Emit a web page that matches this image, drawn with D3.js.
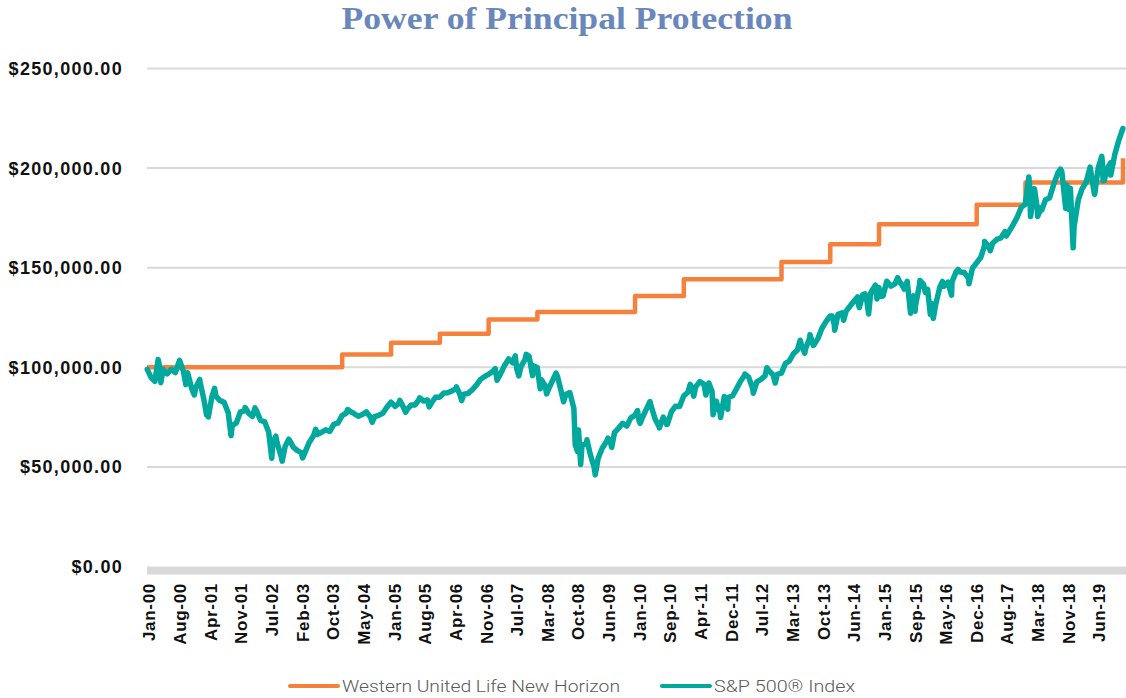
<!DOCTYPE html>
<html lang="en">
<head>
  <meta charset="UTF-8">
  <title>Power of Principal Protection</title>
  <script src="https://d3js.org/d3.v7.min.js"></script>
  <style>
    * { margin: 0; padding: 0; }
    html, body { background: #fff; }
    svg { display: block; }
    .title { font-family: "Liberation Serif", "Times New Roman", serif; font-weight: bold; fill: #6a87bb; }
    .ylab { font-family: "Liberation Sans", Arial, sans-serif; font-weight: bold; font-size: 18px; fill: #111; letter-spacing: 1.3px; }
    .xlab { font-family: "Liberation Sans", Arial, sans-serif; font-weight: bold; font-size: 17px; fill: #111; letter-spacing: 0.7px; }
    .legend text { font-family: Roboto, "Liberation Sans", sans-serif; font-weight: 300; font-size: 16px; fill: #595959; }
  </style>
</head>
<body>
  <svg id="chart" width="1126" height="698"></svg>

  <script>
    // series names
    var seriesNames = ["Western United Life New Horizon", "S&P 500\u00AE Index"];

    // annuity value, steps up on each January reset
    var wulDates = ["2000-01", "2004-01", "2005-01", "2006-01", "2007-01", "2008-01", "2010-01",
                    "2011-01", "2013-01", "2014-01", "2015-01", "2017-01", "2018-01", "2020-01"];
    var wulValues = [100000, 106400, 112300, 116800, 124000, 127800, 135800,
                     144200, 152800, 161800, 171800, 181600, 192800, 205000];

    // S&P 500 month-end values, Jan-00 .. Dec-19 (one row per year)
    var spxMonthly = [
      94900, 93000, 102000, 98900, 96700, 99000, 97400, 103300, 97800, 97300, 89500, 89900,
      93000, 84400, 79000, 85000, 85500, 83300, 82400, 77200, 70800, 72100, 77600, 78100,
      76900, 75300, 78100, 73300, 72600, 67400, 62000, 62300, 55500, 60300, 63700, 59900,
      58200, 57200, 57700, 62400, 65600, 66300, 67400, 68600, 67800, 71500, 72000, 75700,
      77000, 77900, 76700, 75400, 76300, 77600, 75000, 75200, 75900, 76900, 79900, 82500,
      80400, 81900, 80400, 78700, 81100, 81100, 84000, 83100, 83600, 82200, 85000, 85000,
      87100, 87200, 88100, 89200, 86400, 86500, 86900, 88700, 90900, 93800, 95300, 96500,
      97900, 95800, 96700, 100900, 104200, 102300, 99000, 100300, 103900, 105500, 100800, 99900,
      93800, 90600, 90000, 94300, 95300, 87100, 86300, 87300, 79400, 65900, 61000, 61500,
      56200, 50000, 54300, 59400, 62600, 62600, 67200, 69500, 71900, 70500, 74600, 75900,
      73100, 75200, 79600, 80800, 74100, 70200, 75000, 71400, 77700, 80500, 80300, 85600,
      87500, 90300, 90200, 92800, 91600, 89900, 88000, 83000, 77000, 85300, 84900, 85600,
      89300, 93000, 95900, 95100, 89200, 92700, 93900, 95700, 98100, 96100, 96400, 97100,
      102000, 103100, 106800, 108700, 111000, 109300, 114700, 111100, 114400, 119600, 122900, 125800,
      121300, 126600, 127400, 128200, 130900, 133400, 131400, 136400, 134200, 137400, 140700, 140100,
      135800, 143200, 140700, 141900, 143400, 140400, 143200, 134200, 130700, 141500, 141600, 139100,
      132100, 131500, 140200, 140600, 142700, 142900, 147900, 147800, 147600, 144700, 149700, 152400,
      155100, 160900, 160800, 162300, 164200, 164900, 168100, 168200, 171500, 175300, 180200, 182000,
      192200, 184700, 179700, 180200, 184100, 185000, 191700, 197500, 198300, 184600, 187900, 170600,
      184000, 189500, 192900, 200500, 187300, 200200, 202800, 199200, 202600, 206700, 213800, 219900
    ];

    // intra-month highs and lows seen on the line
    var spxSwings = [
      ["2000-01-03", 99000], ["2000-03-24", 103900], ["2000-04-14", 92300], ["2000-09-01", 103500],
      ["2000-10-18", 91300], ["2000-12-20", 86100], ["2001-01-30", 93900], ["2001-03-22", 76100],
      ["2001-04-04", 75100], ["2001-05-21", 89400], ["2001-09-21", 65700], ["2002-01-04", 79800],
      ["2002-03-19", 79600], ["2002-07-23", 54300], ["2002-08-22", 65500], ["2002-10-09", 52900],
      ["2002-11-27", 63900], ["2003-03-11", 54500], ["2003-06-17", 68900], ["2004-02-11", 78800],
      ["2004-08-12", 72400], ["2005-03-07", 83400], ["2005-04-20", 77400], ["2005-08-03", 84700],
      ["2005-10-13", 80100], ["2006-05-05", 90200], ["2006-06-13", 83300], ["2007-02-20", 99300],
      ["2007-03-05", 93500], ["2007-07-19", 105700], ["2007-08-15", 95700], ["2007-10-09", 106500],
      ["2007-11-26", 95800], ["2008-01-22", 89200], ["2008-03-10", 86600], ["2008-05-19", 97100],
      ["2008-07-15", 82700], ["2008-10-10", 61200], ["2008-10-27", 57800], ["2008-11-04", 68500],
      ["2008-11-20", 51200], ["2009-01-06", 63600], ["2009-03-09", 46000], ["2009-06-12", 64400],
      ["2009-07-10", 59800], ["2010-01-19", 78300], ["2010-02-08", 71900], ["2010-04-23", 82800],
      ["2010-07-02", 69600], ["2010-08-26", 71300], ["2011-02-18", 91400], ["2011-03-16", 85500],
      ["2011-06-15", 86100], ["2011-07-07", 92100], ["2011-08-08", 76200], ["2011-10-03", 74800],
      ["2011-11-25", 78900], ["2012-04-02", 96600], ["2012-06-04", 87000], ["2012-09-14", 99800],
      ["2012-11-15", 92100], ["2013-05-21", 113600], ["2013-06-24", 107100], ["2013-08-02", 116400],
      ["2013-08-27", 111000], ["2014-01-15", 125800], ["2014-02-03", 118600], ["2014-04-11", 123600],
      ["2014-07-24", 135300], ["2014-08-07", 130000], ["2014-09-18", 136900], ["2014-10-15", 126800],
      ["2014-12-05", 141200], ["2014-12-16", 134300], ["2015-01-15", 135600], ["2015-05-21", 145000],
      ["2015-07-08", 139300], ["2015-08-25", 127100], ["2015-09-16", 135800], ["2015-09-28", 128100],
      ["2015-11-03", 143600], ["2015-12-14", 137600], ["2016-01-20", 126500], ["2016-02-11", 124500],
      ["2016-04-20", 143100], ["2016-06-27", 136200], ["2016-08-15", 149100], ["2016-11-04", 141900],
      ["2017-03-01", 163100], ["2017-04-13", 158500], ["2017-08-10", 165900], ["2018-01-26", 195500],
      ["2018-02-08", 175700], ["2018-03-09", 189700], ["2018-04-02", 175700], ["2018-05-03", 179000],
      ["2018-09-20", 199500], ["2018-10-29", 179700], ["2018-11-07", 191500], ["2018-11-23", 179200],
      ["2018-12-03", 189900], ["2018-12-24", 160000], ["2019-06-03", 186800], ["2019-07-26", 205900],
      ["2019-08-05", 193600], ["2019-08-15", 193800], ["2019-10-02", 196500]
    ];

    // x tick labels (every ~158 trading days on the original axis)
    var tickLabels = ["Jan-00", "Aug-00", "Apr-01", "Nov-01", "Jul-02", "Feb-03", "Oct-03", "May-04",
                      "Jan-05", "Aug-05", "Apr-06", "Nov-06", "Jul-07", "Mar-08", "Oct-08", "Jun-09",
                      "Jan-10", "Sep-10", "Apr-11", "Dec-11", "Jul-12", "Mar-13", "Oct-13", "Jun-14",
                      "Jan-15", "Sep-15", "May-16", "Dec-16", "Aug-17", "Mar-18", "Nov-18", "Jun-19"];
    var yTicks = [0, 50000, 100000, 150000, 200000, 250000];

    var colors = ["#f5813d", "#00a89d"];

    var svg = d3.select("#chart");
    var W = 1126, H = 698;
    var plotL = 147, plotR = 1123, plotT = 68.5, plotB = 566.5;

    var parseMonth = d3.timeParse("%Y-%m");
    var parseDay = d3.timeParse("%Y-%m-%d");

    var x = d3.scaleTime()
      .domain([new Date(2000, 0, 1), new Date(2020, 0, 1)])
      .range([plotL, plotR]);
    var y = d3.scaleLinear().domain([0, 250000]).range([plotB, plotT]);

    // labels sit on evenly spaced category slots
    var xl = d3.scalePoint()
      .domain(tickLabels)
      .range([x(new Date(2000, 0, 1)) + 2.5, x(new Date(2019, 6, 1)) + 1]);

    // build series
    var wul = wulDates.map(function(d, i) { return { date: parseMonth(d), value: wulValues[i] }; });
    var spx = spxMonthly.map(function(v, i) { return { date: new Date(2000, i + 1, 0), value: v }; });
    spxSwings.forEach(function(s) { spx.push({ date: parseDay(s[0]), value: s[1] }); });
    spx.sort(function(a, b) { return a.date - b.date; });

    // title
    svg.append("text").attr("class", "title")
      .attr("x", 567).attr("y", 29)
      .attr("text-anchor", "middle")
      .attr("font-size", 31)
      .attr("textLength", 451).attr("lengthAdjust", "spacingAndGlyphs")
      .text("Power of Principal Protection");

    // gridlines
    svg.append("g").selectAll("line")
      .data(yTicks.filter(function(d) { return d > 0; }))
      .join("line")
      .attr("x1", plotL).attr("x2", W)
      .attr("y1", function(d) { return y(d); }).attr("y2", function(d) { return y(d); })
      .attr("stroke", "#d9d9d9").attr("stroke-width", 2);

    // thick base axis
    svg.append("rect")
      .attr("x", plotL).attr("y", y(0))
      .attr("width", W - plotL).attr("height", 8)
      .attr("fill", "#d9d9d9");

    // y labels
    svg.append("g").selectAll("text")
      .data(yTicks)
      .join("text")
      .attr("class", "ylab")
      .attr("x", 123)
      .attr("y", function(d) { return y(d); })
      .attr("dy", "0.36em")
      .attr("text-anchor", "end")
      .text(function(d) { return d3.format("$,.2f")(d); });

    // x labels, rotated
    svg.append("g").selectAll("text")
      .data(tickLabels)
      .join("text")
      .attr("class", "xlab")
      .attr("transform", function(d) { return "translate(" + xl(d) + ",583) rotate(-90)"; })
      .attr("dy", "0.35em")
      .attr("text-anchor", "end")
      .text(function(d) { return d; });

    // lines
    var stepLine = d3.line()
      .x(function(d) { return x(d.date); })
      .y(function(d) { return y(d.value); })
      .curve(d3.curveStepAfter);
    var valLine = d3.line()
      .x(function(d) { return x(d.date); })
      .y(function(d) { return y(d.value); });

    svg.append("path").datum(wul)
      .attr("d", stepLine)
      .attr("fill", "none")
      .attr("stroke", colors[0])
      .attr("stroke-width", 4.5)
      .attr("stroke-linejoin", "round");

    svg.append("path").datum(spx)
      .attr("d", valLine)
      .attr("fill", "none")
      .attr("stroke", colors[1])
      .attr("stroke-width", 5.5)
      .attr("stroke-linejoin", "round")
      .attr("stroke-linecap", "round");

    // legend
    var legendPos = [{ x: 289, w: 278 }, { x: 661, w: 141 }];
    var lg = svg.append("g").attr("class", "legend")
      .selectAll("g")
      .data(seriesNames)
      .join("g")
      .attr("transform", function(d, i) { return "translate(" + legendPos[i].x + ",686)"; });
    lg.append("line")
      .attr("x1", 1).attr("x2", 49)
      .attr("stroke", function(d, i) { return colors[i]; })
      .attr("stroke-width", 4)
      .attr("stroke-linecap", "round");
    lg.append("text")
      .attr("x", 53).attr("y", 6)
      .attr("textLength", function(d, i) { return legendPos[i].w; })
      .attr("lengthAdjust", "spacingAndGlyphs")
      .text(function(d) { return d; });
  </script>
</body>
</html>
